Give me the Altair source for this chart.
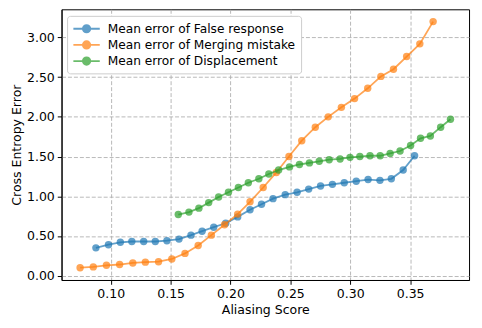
import altair as alt
import pandas as pd

series_names = [
    "Mean error of False response",
    "Mean error of Merging mistake",
    "Mean error of Displacement",
]
colors = ["#1f77b4", "#ff7f0e", "#2ca02c"]

false_x = [0.0876, 0.0981, 0.1080, 0.1176, 0.1275, 0.1372, 0.1469, 0.1570, 0.1670, 0.1763,
           0.1860, 0.1960, 0.2060, 0.2163, 0.2259, 0.2355, 0.2457, 0.2556, 0.2653, 0.2752,
           0.2851, 0.2950, 0.3050, 0.3149, 0.3248, 0.3343, 0.3442, 0.3537]
false_y = [0.35, 0.39, 0.42, 0.43, 0.43, 0.43, 0.44, 0.46, 0.51, 0.56,
           0.61, 0.66, 0.74, 0.83, 0.90, 0.97, 1.02, 1.05, 1.09, 1.13,
           1.15, 1.17, 1.19, 1.21, 1.20, 1.22, 1.33, 1.51]

merge_x = [0.0744, 0.0854, 0.0964, 0.1074, 0.1184, 0.1289, 0.1399, 0.1510, 0.1620, 0.1730,
           0.1840, 0.1950, 0.2060, 0.2163, 0.2273, 0.2383, 0.2488, 0.2595, 0.2708, 0.2816,
           0.2926, 0.3036, 0.3146, 0.3256, 0.3361, 0.3471, 0.3581, 0.3692]
merge_y = [0.10, 0.11, 0.13, 0.14, 0.16, 0.17, 0.175, 0.21, 0.28, 0.38,
           0.51, 0.64, 0.775, 0.93, 1.11, 1.30, 1.50, 1.70, 1.87, 2.00,
           2.12, 2.23, 2.36, 2.51, 2.60, 2.76, 2.92, 3.20]

disp_x = [0.1564, 0.1653, 0.1736, 0.1818, 0.1901, 0.1983, 0.2066, 0.2149, 0.2237, 0.2320,
          0.2402, 0.2493, 0.2576, 0.2659, 0.2741, 0.2824, 0.2915, 0.2998, 0.3080, 0.3165,
          0.3250, 0.3333, 0.3416, 0.3504, 0.3587, 0.3669, 0.3755, 0.3837]
disp_y = [0.77, 0.80, 0.85, 0.92, 0.99, 1.05, 1.11, 1.17, 1.22, 1.28,
          1.33, 1.37, 1.40, 1.42, 1.44, 1.46, 1.47, 1.49, 1.50, 1.51,
          1.51, 1.54, 1.57, 1.64, 1.73, 1.76, 1.87, 1.97]

x_ticks = [0.10, 0.15, 0.20, 0.25, 0.30, 0.35]
y_ticks = [0.0, 0.5, 1.0, 1.5, 2.0, 2.5, 3.0]

rows = []
for name, xs, ys in zip(series_names, [false_x, merge_x, disp_x], [false_y, merge_y, disp_y]):
    for i, (xv, yv) in enumerate(zip(xs, ys)):
        rows.append({"series": name, "score": xv, "error": yv, "idx": i})
df = pd.DataFrame(rows)

FONT = "DejaVu Sans"
FS = 12.6

xenc = alt.X("score:Q", title="Aliasing Score",
             scale=alt.Scale(domain=[0.0589, 0.3992], nice=False, zero=False),
             axis=alt.Axis(values=x_ticks, format=".2f"))
yenc = alt.Y("error:Q", title="Cross Entropy Error",
             scale=alt.Scale(domain=[-0.055, 3.355], nice=False, zero=False),
             axis=alt.Axis(values=y_ticks, format=".2f"))

# legend handle: a line with a circle marker (line spans x in [-1, 3] units)
handle = "M-1,0L3,0M0.436,0A0.564,0.564,0,1,0,1.564,0A0.564,0.564,0,1,0,0.436,0Z"
legend = alt.Legend(
    title=None, orient="none", legendX=5.6, legendY=6.6, direction="vertical",
    symbolType=handle, symbolSize=177, symbolStrokeWidth=1.8, symbolOpacity=0.7,
    labelFont=FONT, labelFontSize=12.3, labelColor="black", labelOffset=20,
    labelLimit=400,
    fillColor="white", strokeColor="#cccccc", cornerRadius=3, padding=5,
    rowPadding=0.3,
)
color = alt.Color("series:N", scale=alt.Scale(domain=series_names, range=colors), legend=legend)

layers = []
for name in series_names:
    base = alt.Chart(df).transform_filter(alt.datum.series == name)
    line = base.mark_line(strokeWidth=1.8, opacity=0.7).encode(
        x=xenc, y=yenc, color=color, order="idx:Q")
    pts = base.mark_point(filled=True, shape="circle", size=56, opacity=0.7).encode(
        x=xenc, y=yenc, color=color)
    layers += [line, pts]

chart = alt.layer(*layers).properties(
    width=411, height=273,
    padding={"left": 54, "top": 0, "right": 5, "bottom": 36},
    autosize=alt.AutoSizeParams(type="none"),
).configure_view(
    stroke="black", strokeWidth=1
).configure_axis(
    grid=True, gridColor="#b0b0b0", gridDash=[4, 2], gridWidth=0.9,
    domainColor="black", domainWidth=1,
    tickColor="black", tickSize=4.3, tickWidth=1,
    labelFont=FONT, labelFontSize=FS, labelColor="black", labelPadding=3,
    titleFont=FONT, titleFontSize=FS, titleFontWeight="normal", titleColor="black",
    titlePadding=3.5,
)

chart.save("out.html", embed_options={"renderer": "svg", "actions": False})
